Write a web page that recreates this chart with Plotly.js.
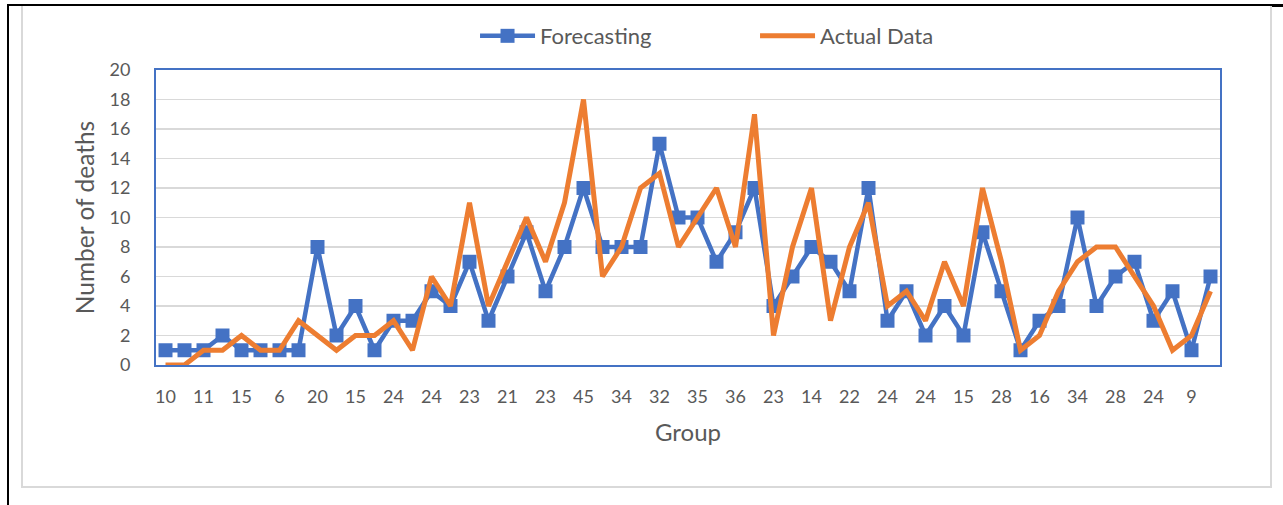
<!DOCTYPE html>
<html>
<head>
<meta charset="utf-8">
<script src="https://cdn.plot.ly/plotly-3.0.1.min.js"></script>
<style>
  html, body { margin: 0; padding: 0; background: #fff; }
  #wrap { position: relative; width: 1283px; height: 505px; overflow: hidden; }
  #chart { position: absolute; left: 0; top: 0; width: 1283px; height: 505px; }
  .ln { position: absolute; pointer-events: none; }
</style>
</head>
<body>
<div id="wrap">
  <div id="chart"></div>
  <div class="ln" style="left:7px; top:4px; width:1276px; height:2px; background:#000;"></div>
  <div class="ln" style="left:1270px; top:4px; width:13px; height:3px; background:#000;"></div>
  <div class="ln" style="left:7px; top:4px; width:2px; height:501px; background:#000;"></div>
  <div class="ln" style="left:21px; top:6px; width:1247px; height:480px; border:2px solid #d9d9d9; border-top:none;"></div>
</div>
<script>
// Category tick labels (Excel shows every second group label)
const groupLabels = [10, 11, 15, 6, 20, 15, 24, 24, 23, 21, 23, 45, 34, 32, 35, 36, 23, 14, 22, 24, 24, 15, 28, 16, 34, 28, 24, 9];

// Forecasting series (56 points)
const forecasting = [1, 1, 1, 2, 1, 1, 1, 1, 8, 2, 4, 1, 3, 3, 5, 4, 7, 3, 6, 9,
                     5, 8, 12, 8, 8, 8, 15, 10, 10, 7, 9, 12, 4, 6, 8, 7, 5, 12, 3, 5,
                     2, 4, 2, 9, 5, 1, 3, 4, 10, 4, 6, 7, 3, 5, 1, 6];

// Actual data series (56 points)
const actualData = [0, 0, 1, 1, 2, 1, 1, 3, 2, 1, 2, 2, 3, 1, 6, 4, 11, 4, 7, 10,
                    7, 11, 18, 6, 8, 12, 13, 8, 10, 12, 8, 17, 2, 8, 12, 3, 8, 11, 4, 5,
                    3, 7, 4, 12, 7, 1, 2, 5, 7, 8, 8, 6, 4, 1, 2, 5];

const xIdx = forecasting.map((_, i) => i);
const tickVals = groupLabels.map((_, i) => i * 2);

const FONT = 'Lato, "Open Sans", sans-serif';

const traces = [
  {
    x: xIdx, y: forecasting, name: 'Forecasting', type: 'scatter', mode: 'lines+markers',
    line: { color: '#4472C4', width: 4.5 },
    marker: { symbol: 'square', size: 14, color: '#4472C4' }
  },
  {
    x: xIdx, y: actualData, name: 'Actual Data', type: 'scatter', mode: 'lines',
    line: { color: '#ED7D31', width: 5 }
  }
];

const layout = {
  width: 1283, height: 505,
  margin: { l: 156, r: 63, t: 70, b: 140 },
  paper_bgcolor: '#ffffff',
  plot_bgcolor: '#ffffff',
  font: { family: FONT, color: '#595959', size: 18 },
  showlegend: true,
  legend: {
    orientation: 'h', x: 0.563, xanchor: 'center', y: 1.044, yanchor: 'bottom',
    yref: 'paper',
    entrywidth: 210, entrywidthmode: 'pixels', itemwidth: 55,
    font: { family: FONT, size: 22, color: '#595959' },
    bgcolor: 'rgba(0,0,0,0)'
  },
  xaxis: {
    range: [-0.5, 55.5],
    tickmode: 'array', tickvals: tickVals, ticktext: groupLabels.map(String),
    showgrid: false, zeroline: false,
    showline: true, linecolor: '#4472C4', linewidth: 2, mirror: true,
    ticks: '', ticklabelstandoff: 14,
    tickfont: { family: FONT, size: 18, color: '#595959' },
    title: { text: 'Group', font: { family: FONT, size: 24, color: '#595959' }, standoff: 19 },
    automargin: false
  },
  yaxis: {
    range: [0, 20], dtick: 2, tick0: 0,
    showgrid: true, gridcolor: '#d9d9d9', gridwidth: 1.5,
    zeroline: false,
    showline: true, linecolor: '#4472C4', linewidth: 2, mirror: true,
    ticks: '', ticklabelstandoff: 20,
    tickfont: { family: FONT, size: 18, color: '#595959' },
    title: { text: 'Number of deaths', font: { family: FONT, size: 24.5, color: '#595959' }, standoff: 8 },
    automargin: false
  }
};

Plotly.newPlot('chart', traces, layout, { displayModeBar: false, staticPlot: true });
</script>
</body>
</html>
